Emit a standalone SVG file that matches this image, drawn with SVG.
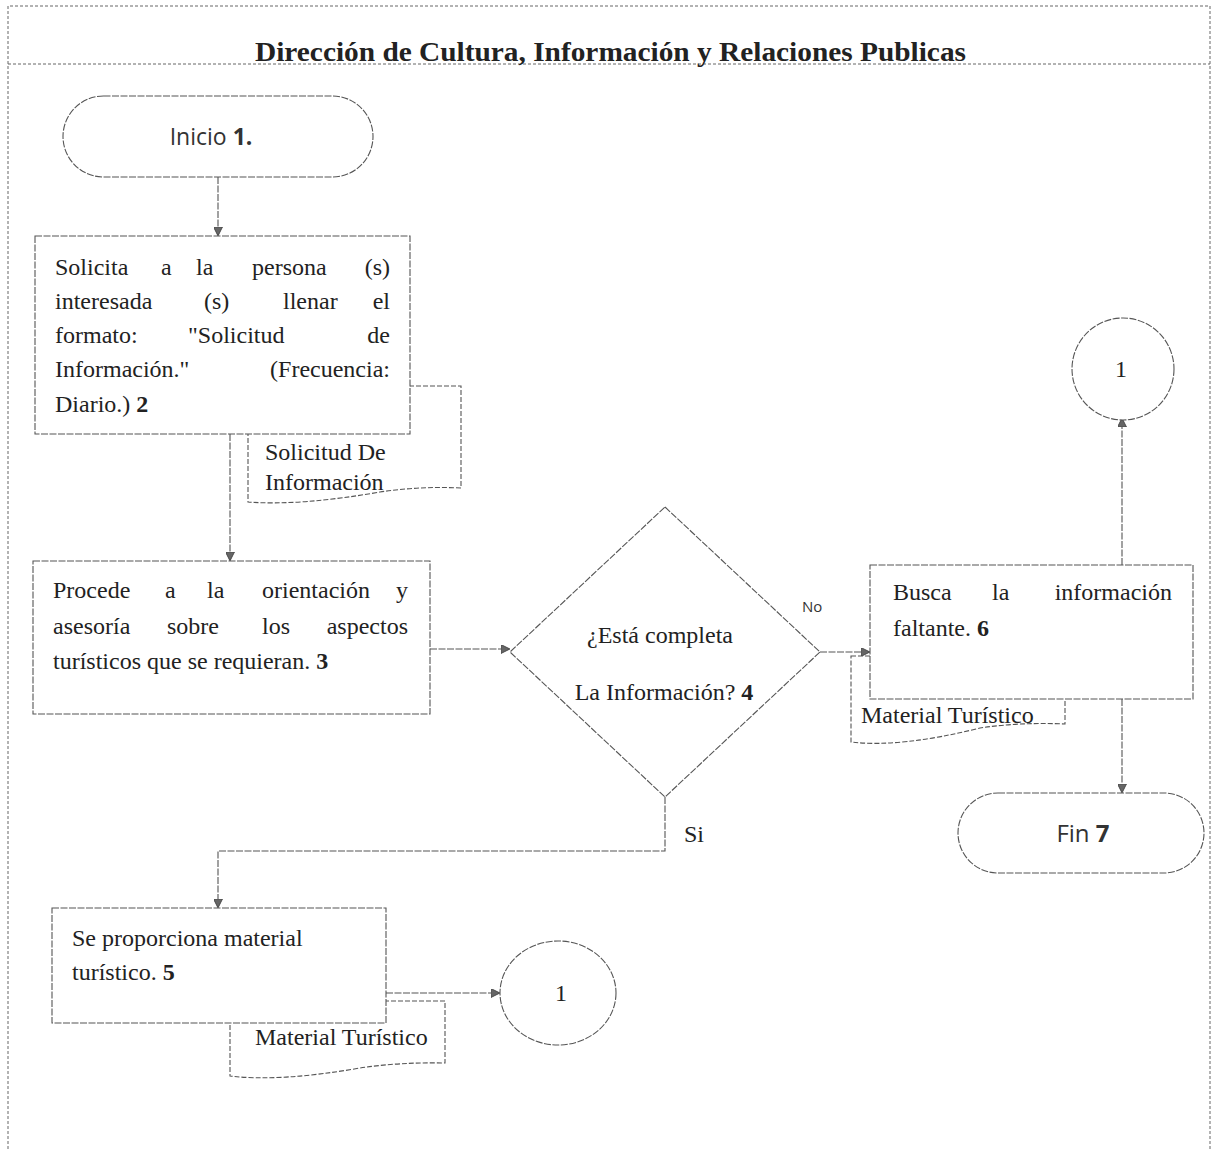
<svg xmlns="http://www.w3.org/2000/svg" width="1217" height="1149" viewBox="0 0 1217 1149">
  <style>
    .ln { fill: none; stroke: #555; stroke-width: 1.1; stroke-dasharray: 7 1.5; }
    .shape { fill: #fff; stroke: #555; stroke-width: 1.1; stroke-dasharray: 7 1.5; }
    .doc { fill: #fff; stroke: #555; stroke-width: 1.1; stroke-dasharray: 5 2; }
    .frame { fill: none; stroke: #666; stroke-width: 1; stroke-dasharray: 3 2; }
    .t { font-family: "Liberation Serif", "Times New Roman", serif; font-size: 24px; fill: #222; }
    .ts { font-family: "Liberation Serif", "Times New Roman", serif; font-size: 24px; fill: #222; }
    .sans { font-family: "Open Sans", "Noto Sans", sans-serif; fill: #333; }
    .title { font-family: "Liberation Serif", "Times New Roman", serif; font-size: 27px; font-weight: bold; fill: #222; }
    .b { font-weight: bold; }
  </style>
  <defs>
    <marker id="arr" viewBox="0 0 10 10" refX="9" refY="5" markerWidth="9" markerHeight="9" orient="auto" markerUnits="userSpaceOnUse">
      <path d="M0,0 L10,5 L0,10 Z" fill="#666" stroke="#444" stroke-width="1"/>
    </marker>
  </defs>

  <rect width="1217" height="1149" fill="#fff"/>

  <!-- page frame and header band -->
  <g id="frame">
    <path class="frame" d="M8,1149 L8,6 L1210,6 L1210,1149"/>
    <line class="frame" x1="8" y1="64" x2="1210" y2="64"/>
    <text class="title" x="255" y="61" textLength="711" lengthAdjust="spacingAndGlyphs">Dirección de Cultura, Información y Relaciones Publicas</text>
  </g>

  <!-- connectors -->
  <g id="connectors">
    <line class="ln" x1="218" y1="177" x2="218" y2="235" marker-end="url(#arr)"/>
    <line class="ln" x1="230" y1="434" x2="230" y2="560" marker-end="url(#arr)"/>
    <line class="ln" x1="430" y1="649" x2="509" y2="649" marker-end="url(#arr)"/>
    <line class="ln" x1="820" y1="652" x2="869" y2="652" marker-end="url(#arr)"/>
    <line class="ln" x1="1122" y1="565" x2="1122" y2="419" marker-end="url(#arr)"/>
    <line class="ln" x1="1122" y1="699" x2="1122" y2="792" marker-end="url(#arr)"/>
    <polyline class="ln" points="665,797 665,851 218,851 218,907" marker-end="url(#arr)"/>
    <line class="ln" x1="386" y1="993" x2="499" y2="993" marker-end="url(#arr)"/>
    <text class="sans" x="802" y="612" font-size="15">No</text>
    <text class="ts" x="684" y="842" font-size="17">Si</text>
  </g>

  <!-- documents (drawn behind the process boxes) -->
  <g id="doc-solicitud">
    <path class="doc" d="M248,386 L461,386 L461,488 Q420,486 380,492 Q300,506 248,502 Z"/>
    <text class="ts" x="265" y="460">Solicitud De</text>
    <text class="ts" x="265" y="490">Información</text>
  </g>
  <g id="doc-material-6">
    <path class="doc" d="M851,656 L1065,656 L1065,724 Q1020,722 980,728 Q900,748 851,742 Z"/>
    <text class="ts" x="861" y="723">Material Turístico</text>
  </g>
  <g id="doc-material-5">
    <path class="doc" d="M230,1001 L445,1001 L445,1063 Q400,1062 360,1068 Q280,1082 230,1076 Z"/>
    <text class="ts" x="255" y="1045">Material Turístico</text>
  </g>

  <!-- 1: start -->
  <g id="n1-inicio">
    <rect class="shape" x="63" y="96" width="310" height="81" rx="40.5"/>
    <text class="sans" x="211" y="145" font-size="23" text-anchor="middle">Inicio <tspan class="b">1.</tspan></text>
  </g>

  <!-- 2: request form -->
  <g id="n2-solicita">
    <rect class="shape" x="35" y="236" width="375" height="198"/>
    <text class="t" x="55" y="275">Solicita</text>
    <text class="t" x="161" y="275">a</text>
    <text class="t" x="196" y="275">la</text>
    <text class="t" x="252" y="275">persona</text>
    <text class="t" x="390" y="275" text-anchor="end">(s)</text>
    <text class="t" x="55" y="309">interesada</text>
    <text class="t" x="204" y="309">(s)</text>
    <text class="t" x="283" y="309">llenar</text>
    <text class="t" x="390" y="309" text-anchor="end">el</text>
    <text class="t" x="55" y="343">formato:</text>
    <text class="t" x="188" y="343">"Solicitud</text>
    <text class="t" x="390" y="343" text-anchor="end">de</text>
    <text class="t" x="55" y="377">Información."</text>
    <text class="t" x="390" y="377" text-anchor="end">(Frecuencia:</text>
    <text class="t" x="55" y="412">Diario.) <tspan class="b">2</tspan></text>
  </g>

  <!-- 3: orientation -->
  <g id="n3-procede">
    <rect class="shape" x="33" y="561" width="397" height="153"/>
    <text class="t" x="53" y="598">Procede</text>
    <text class="t" x="165" y="598">a</text>
    <text class="t" x="207" y="598">la</text>
    <text class="t" x="262" y="598">orientación</text>
    <text class="t" x="408" y="598" text-anchor="end">y</text>
    <text class="t" x="53" y="634">asesoría</text>
    <text class="t" x="167" y="634">sobre</text>
    <text class="t" x="262" y="634">los</text>
    <text class="t" x="408" y="634" text-anchor="end">aspectos</text>
    <text class="t" x="53" y="669">turísticos que se requieran. <tspan class="b">3</tspan></text>
  </g>

  <!-- 4: decision -->
  <g id="n4-decision">
    <polygon class="shape" points="665,507 820,652 665,797 510,652"/>
    <text class="ts" x="660" y="643" text-anchor="middle">¿Está completa</text>
    <text class="ts" x="664" y="700" text-anchor="middle">La Información? <tspan class="b">4</tspan></text>
  </g>

  <!-- 5: provide material -->
  <g id="n5-proporciona">
    <rect class="shape" x="52" y="908" width="334" height="115"/>
    <text class="t" x="72" y="946">Se proporciona material</text>
    <text class="t" x="72" y="980">turístico. <tspan class="b">5</tspan></text>
  </g>

  <!-- 6: search missing info -->
  <g id="n6-busca">
    <rect class="shape" x="870" y="565" width="323" height="134"/>
    <text class="t" x="893" y="600">Busca</text>
    <text class="t" x="992" y="600">la</text>
    <text class="t" x="1172" y="600" text-anchor="end">información</text>
    <text class="t" x="893" y="636">faltante. <tspan class="b">6</tspan></text>
  </g>

  <!-- connector 1 (upper) -->
  <g id="c1-upper">
    <circle class="shape" cx="1123" cy="369" r="51"/>
    <text class="ts" x="1121" y="377" text-anchor="middle" font-size="22">1</text>
  </g>

  <!-- connector 1 (lower) -->
  <g id="c1-lower">
    <ellipse class="shape" cx="558" cy="993" rx="58" ry="52"/>
    <text class="ts" x="561" y="1001" text-anchor="middle" font-size="22">1</text>
  </g>

  <!-- 7: end -->
  <g id="n7-fin">
    <rect class="shape" x="958" y="793" width="246" height="80" rx="40"/>
    <text class="sans" x="1083" y="842" font-size="24" text-anchor="middle">Fin <tspan class="b">7</tspan></text>
  </g>
</svg>
